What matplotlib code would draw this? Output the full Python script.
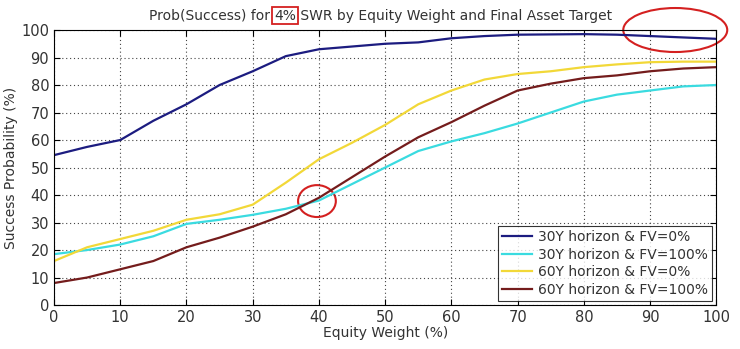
import matplotlib.pyplot as plt
from matplotlib.patches import Ellipse

plt.rcParams['font.family'] = 'DejaVu Sans'
plt.rcParams['font.size'] = 10
plt.rcParams['text.color'] = '#333333'
plt.rcParams['xtick.labelcolor'] = '#333333'
plt.rcParams['ytick.labelcolor'] = '#333333'
plt.rcParams['axes.labelcolor'] = '#333333'

equity = [0, 5, 10, 15, 20, 25, 30, 35, 40, 45, 50, 55, 60, 65, 70, 75, 80, 85, 90, 95, 100]
y30_fv0 = [54.5, 57.5, 60, 67, 73, 80, 85, 90.5, 93, 94, 95, 95.5, 97, 97.8, 98.3, 98.4, 98.5, 98.3, 97.8, 97.3, 96.8]
y30_fv100 = [18.5, 20, 22, 25, 29.5, 31, 32.8, 35, 38, 44, 50, 56, 59.5, 62.5, 66, 70, 74, 76.5, 78, 79.5, 80]
y60_fv0 = [16, 21, 24, 27, 31, 33, 36.5, 44.5, 53, 59, 65.5, 73, 78, 82, 84, 85, 86.5, 87.5, 88.3, 88.5, 88.5]
y60_fv100 = [8, 10, 13, 16, 21, 24.5, 28.5, 33, 39, 46.5, 54, 61, 66.5, 72.5, 78, 80.5, 82.5, 83.5, 85, 86, 86.5]

series = [
    (y30_fv0, '#1c1c80', '30Y horizon & FV=0%'),
    (y30_fv100, '#3adbe0', '30Y horizon & FV=100%'),
    (y60_fv0, '#f2d838', '60Y horizon & FV=0%'),
    (y60_fv100, '#741c1c', '60Y horizon & FV=100%'),
]

fig = plt.figure(figsize=(7.4, 3.49), dpi=100)
ax = fig.add_axes([0.073, 0.126, 0.895, 0.788])

for vals, col, lab in series:
    ax.plot(equity, vals, color=col, lw=1.6, label=lab)

ax.set_xlim(0, 100)
ax.set_ylim(0, 100)
ax.set_xticks(range(0, 101, 10))
ax.set_yticks(range(0, 101, 10))
ax.tick_params(direction='in', length=4, top=True, right=True, labelsize=10.5)
ax.grid(True, linestyle=(0, (1, 2.5)), color='#444444', lw=0.8)
ax.set_xlabel('Equity Weight (%)', labelpad=1)
ax.set_ylabel('Success Probability (%)', labelpad=2)

leg = ax.legend(loc='lower right', fancybox=False, edgecolor='black',
                borderaxespad=0.3, handlelength=2.2, labelspacing=0.25,
                fontsize=10, borderpad=0.3, handletextpad=0.4)
leg.get_frame().set_linewidth(0.8)

# title in three pieces, the "4%" boxed in red
t1 = fig.text(0.201, 0.935, 'Prob(Success) for ', fontsize=10, va='bottom')
t2 = ax.annotate('4%', xy=(1, 0), xycoords=t1, va='bottom', ha='left', fontsize=10,
                 bbox=dict(boxstyle='square,pad=0.12', fc='none', ec='#d42020', lw=1.3))
ax.annotate(' SWR by Equity Weight and Final Asset Target', xy=(1, 0), xycoords=t2,
            va='bottom', ha='left', fontsize=10)

# red highlight ellipses
ax.add_patch(Ellipse((93.8, 100), 15.7, 16, fill=False, ec='#d42020', lw=1.5, clip_on=False))
ax.add_patch(Ellipse((39.7, 37.8), 5.7, 11.6, fill=False, ec='#d42020', lw=1.5, clip_on=False))

fig.savefig('out.png', dpi=100)
